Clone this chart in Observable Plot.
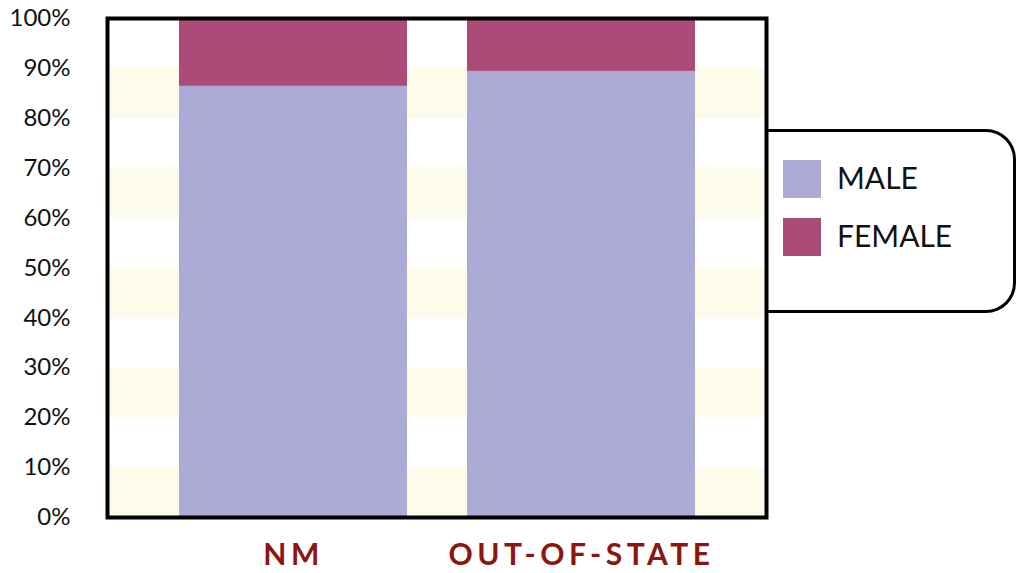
<!DOCTYPE html>
<html>
<head>
<meta charset="utf-8">
<script src="https://cdn.jsdelivr.net/npm/d3@7"></script>
<script src="https://cdn.jsdelivr.net/npm/@observablehq/plot@0.6"></script>
<style>
  html, body { margin: 0; padding: 0; background: #fff; }
  #wrap { position: relative; width: 1021px; height: 573px; font-family: Lato, "Open Sans", sans-serif; }
  #wrap svg { display: block; }
  .xlab text { letter-spacing: 4.5px; }
  #legend {
    position: absolute; left: 765px; top: 129px; width: 248px; height: 178px;
    border: 3px solid #000; border-left: none; border-radius: 0 30px 30px 0;
    box-sizing: content-box;
  }
  .item { position: absolute; left: 18px; display: flex; align-items: center; }
  .sw { width: 38px; height: 38px; margin-right: 16px; }
  .lt { font-size: 30px; color: #111; font-family: Lato, sans-serif; position: relative; top: -2px; }
</style>
</head>
<body>
<div id="wrap"></div>
<script>
const categories = ["NM", "OUT-OF-STATE"];
const sexes = ["MALE", "FEMALE"];
const maleValues = [86.4, 89.4];
const femaleValues = [13.6, 10.6];
const yTicks = [0, 10, 20, 30, 40, 50, 60, 70, 80, 90, 100];
const bandStarts = [0, 20, 40, 60, 80];
const colors = ["#acabd5", "#ab4b77"];

const rows = [];
categories.forEach((c, i) => {
  rows.push({cat: c, sex: sexes[0], value: maleValues[i]});
  rows.push({cat: c, sex: sexes[1], value: femaleValues[i]});
});
const bands = bandStarts.map(b => ({y1: b, y2: b + 10}));

const chart = Plot.plot({
  width: 1021,
  height: 573,
  marginLeft: 107,
  marginRight: 255,
  marginTop: 18,
  marginBottom: 56,
  style: {fontFamily: "Lato, 'Open Sans', sans-serif", background: "#fff"},
  x: {domain: categories, paddingInner: 0.21, paddingOuter: 0.247, label: null},
  y: {domain: [0, 100], label: null},
  color: {domain: sexes, range: colors},
  marks: [
    Plot.rectY(bands, {y1: "y1", y2: "y2", fill: "#fdfbea"}),
    Plot.barY(rows, {x: "cat", y: "value", fill: "sex"}),
    Plot.frame({stroke: "#000", strokeWidth: 4}),
    Plot.axisY({ticks: yTicks, tickSize: 0, tickPadding: 37, tickFormat: d => d + "%", fontSize: 24, fill: "#111", label: null}),
    Plot.axisX({tickSize: 0, tickPadding: 26, fontSize: 30, fontWeight: "bold", fill: "#8b1610", label: null, className: "xlab"})
  ]
});

document.getElementById("wrap").appendChild(chart);

const color = chart.scale("color");
const legend = document.createElement("div");
legend.id = "legend";
color.domain.forEach((d, i) => {
  const item = document.createElement("div");
  item.className = "item";
  item.style.top = (28 + i * 58) + "px";
  const sw = document.createElement("div");
  sw.className = "sw";
  sw.style.background = color.range[i];
  const t = document.createElement("span");
  t.className = "lt";
  t.textContent = d;
  item.appendChild(sw);
  item.appendChild(t);
  legend.appendChild(item);
});
document.getElementById("wrap").appendChild(legend);
</script>
</body>
</html>
